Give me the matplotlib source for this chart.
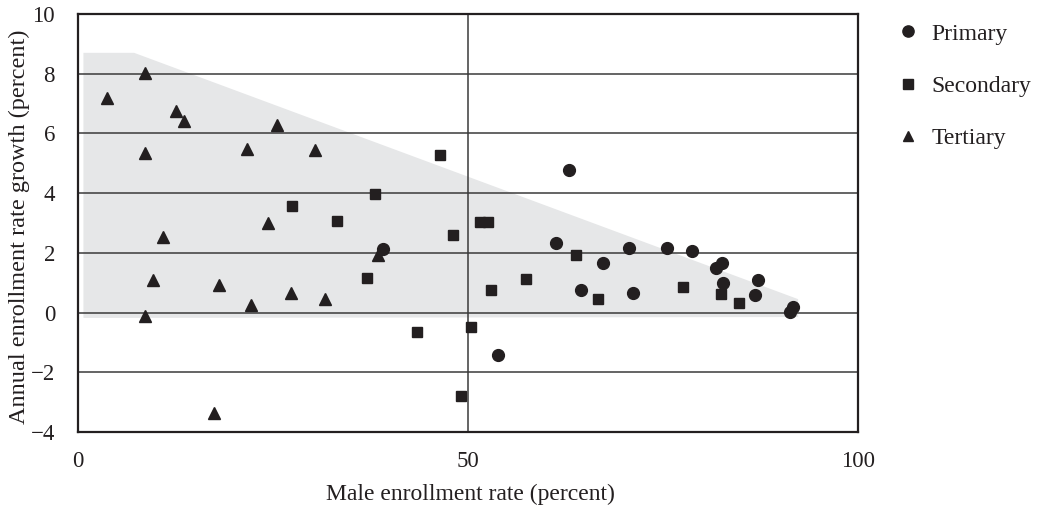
import numpy as np
import matplotlib.pyplot as plt

plt.rcParams['font.family'] = ['Liberation Serif', 'DejaVu Serif']

# primary
prim_x = [62.9, 61.3, 39.1, 53.8, 64.5, 67.3, 70.6, 71.2, 75.5, 78.7, 81.8, 82.6, 82.7, 87.1, 86.8, 91.2, 91.7]
prim_y = [4.77, 2.33, 2.14, -1.43, 0.75, 1.65, 2.15, 0.65, 2.15, 2.05, 1.49, 1.66, 1.0, 1.09, 0.59, 0.02, 0.19]

# secondary
sec_x = [27.4, 33.2, 38.1, 37.1, 43.5, 46.4, 48.1, 51.5, 52.6, 52.9, 50.4, 49.1, 57.4, 63.8, 66.7, 77.6, 82.4, 84.7]
sec_y = [3.57, 3.06, 3.97, 1.16, -0.65, 5.27, 2.6, 3.03, 3.05, 0.75, -0.48, -2.8, 1.12, 1.93, 0.47, 0.86, 0.61, 0.31]

# tertiary
ter_x = [3.7, 8.6, 8.6, 12.6, 13.6, 10.9, 9.6, 8.6, 18.1, 17.4, 21.7, 25.5, 24.4, 22.2, 27.3, 30.4, 31.7, 38.5]
ter_y = [7.18, 8.02, 5.34, 6.75, 6.41, 2.53, 1.08, -0.11, 0.92, -3.36, 5.47, 6.28, 2.99, 0.25, 0.65, 5.44, 0.45, 1.94]

# shaded band
band_x = [0.7, 7.2, 92.3, 92.3, 0.7]
band_y = [8.7, 8.7, 0.45, -0.15, -0.18]

dark = '#231f20'

fig = plt.figure(figsize=(10.41, 5.08), dpi=100)
ax = fig.add_axes([0.0749, 0.1496, 0.7495, 0.8228])

ax.fill(band_x, band_y, color='#e6e7e8', lw=0, zorder=0)
for yv in [-2, 0, 2, 4, 6, 8]:
    ax.axhline(yv, color='#3a3a3a', lw=1.1, zorder=1)
ax.axvline(50, color='#3a3a3a', lw=1.1, zorder=1)

ax.plot(prim_x, prim_y, 'o', color=dark, ms=8.5, ls='none', label='Primary', zorder=3)
ax.plot(sec_x, sec_y, 's', color=dark, ms=7.5, ls='none', label='Secondary', zorder=3)
ax.plot(ter_x, ter_y, '^', color=dark, ms=8, ls='none', label='Tertiary', zorder=3)

ax.set_xlim(0, 100)
ax.set_ylim(-4, 10)
ax.set_xticks([0, 50, 100])
ax.set_yticks([-4, -2, 0, 2, 4, 6, 8, 10])
ax.set_yticklabels(['\u22124', '\u22122', '0', '2', '4', '6', '8', '10'])
ax.tick_params(length=0, labelsize=16.5, colors=dark)
ax.tick_params(axis='x', pad=14)
ax.tick_params(axis='y', pad=16.5)
for s in ax.spines.values():
    s.set_linewidth(1.6)
    s.set_color(dark)

ax.set_xlabel('Male enrollment rate (percent)', fontsize=17, color=dark)
ax.set_ylabel('Annual enrollment rate growth (percent)', fontsize=17.5, color=dark)
ax.xaxis.set_label_coords(0.503, -0.125)
ax.yaxis.set_label_coords(-0.062, 0.49)

leg = ax.legend(loc='upper left', bbox_to_anchor=(1.0487, 0.978), frameon=False,
                fontsize=17, labelspacing=1.3, handlelength=1.0, handletextpad=0.5,
                markerscale=0.95, borderaxespad=0, borderpad=0)
for t in leg.get_texts():
    t.set_color(dark)

fig.savefig('out.png', dpi=100)
